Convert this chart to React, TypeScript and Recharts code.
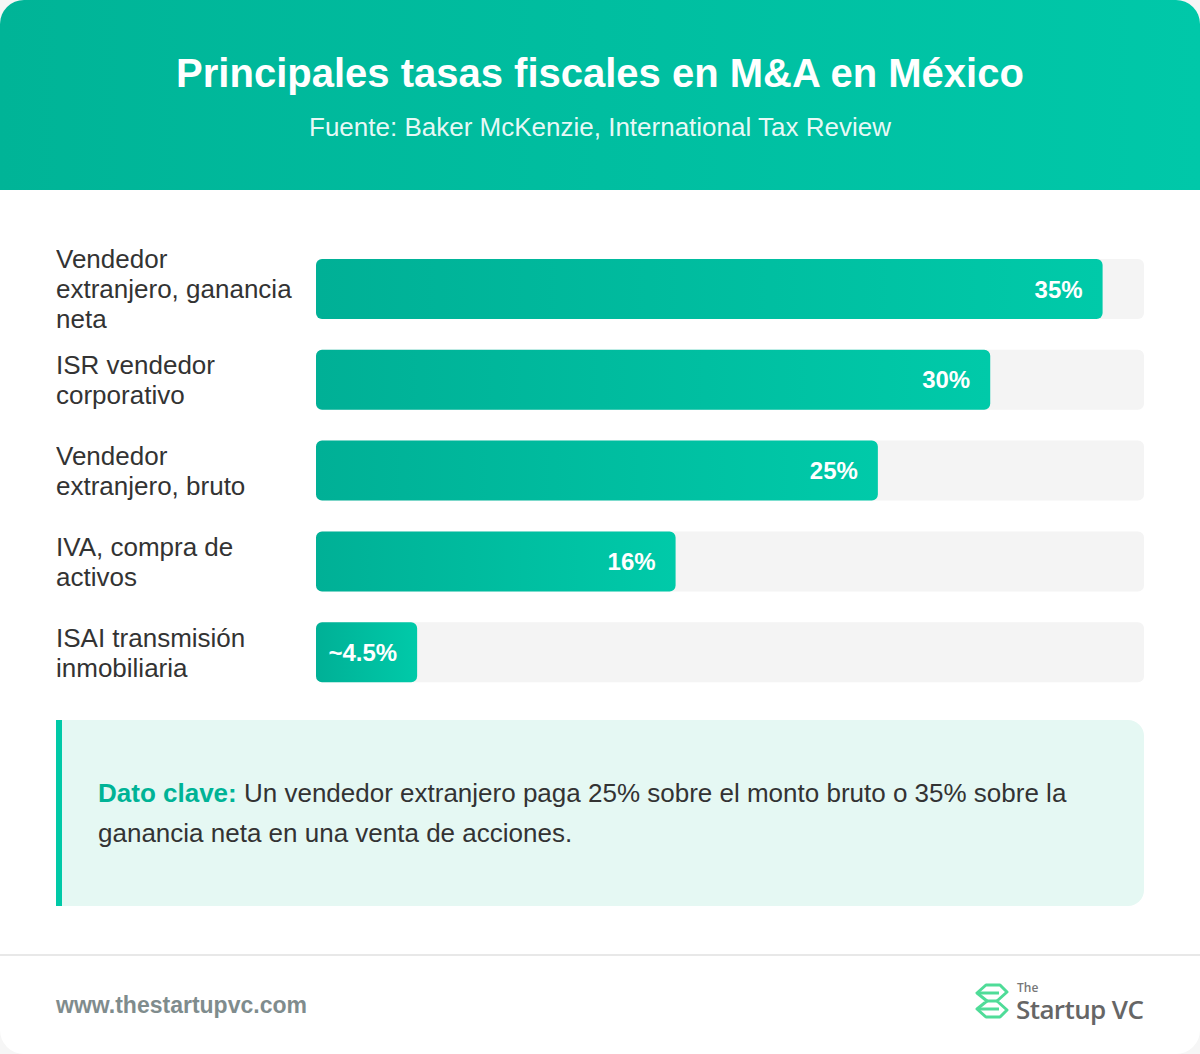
import React from 'react';
import { BarChart, Bar, XAxis, YAxis, LabelList } from 'recharts';

const FONT = '"Liberation Sans", Arial, Helvetica, sans-serif';

// tax items, top to bottom
const categories = [
  'Vendedor extranjero, ganancia neta',
  'ISR vendedor corporativo',
  'Vendedor extranjero, bruto',
  'IVA, compra de activos',
  'ISAI transmisión inmobiliaria',
];
const categoryLines = [
  ['Vendedor', 'extranjero, ganancia', 'neta'],
  ['ISR vendedor', 'corporativo'],
  ['Vendedor', 'extranjero, bruto'],
  ['IVA, compra de', 'activos'],
  ['ISAI transmisión', 'inmobiliaria'],
];
const rates = [35, 30, 25, 16, 4.5];
const rateLabels = ['35%', '30%', '25%', '16%', '~4.5%'];

const data = categories.map((name, i) => ({
  name,
  value: rates[i],
  label: rateLabels[i],
}));

// largest bar fills 95% of the track
const xMax = Math.max(...rates) / 0.95;

const CategoryTick = (props: any) => {
  const { y, index } = props;
  const lines: string[] = categoryLines[index] || [];
  const lh = 30;
  const startY = y - ((lines.length - 1) * lh) / 2;
  return (
    <text x={0} y={startY} fill="#333" fontSize={26} fontFamily={FONT} textAnchor="start">
      {lines.map((l, i) => (
        <tspan key={i} x={0} y={startY + i * lh} dominantBaseline="central">
          {l}
        </tspan>
      ))}
    </text>
  );
};

const Logo = () => (
  <div style={{ position: 'absolute', right: 56, top: 980, display: 'flex', alignItems: 'center' }}>
    <svg width={36} height={38} viewBox="0 0 36 38" style={{ marginRight: 6 }}>
      <g fill="none" stroke="#4fdc98" strokeWidth={3} strokeLinejoin="round">
        <path d="M12 3 H26 L33 10 L23 19 L33 28 L26 35 H12 L3 27 L13 19 L3 11 Z" />
        <path d="M3 11 H25" />
        <path d="M13 19 H23" />
        <path d="M3 27 H25" />
      </g>
    </svg>
    <div style={{ position: 'relative', height: 42, width: 128 }}>
      <div style={{ position: 'absolute', left: 1, top: 1, fontSize: 12, lineHeight: '13px', color: '#777', fontFamily: '"Open Sans", sans-serif', fontWeight: 600 }}>The</div>
      <div style={{ position: 'absolute', left: 0, top: 16, fontSize: 26, lineHeight: '26px', color: '#666', fontFamily: '"Open Sans", sans-serif', fontWeight: 600, letterSpacing: -0.6, whiteSpace: 'nowrap' }}>
        Startup VC
      </div>
    </div>
  </div>
);

export default function App() {
  return (
    <div style={{ position: 'absolute', left: 0, top: 0, width: 1200, height: 1054, background: '#f6f6f6', fontFamily: FONT }}>
      <div style={{ position: 'absolute', left: 0, top: 0, width: 1200, height: 1054, background: '#fff', borderRadius: 24, overflow: 'hidden' }}>
        {/* header */}
        <div style={{ position: 'absolute', left: 0, top: 0, width: 1200, height: 190, background: 'linear-gradient(90deg, #00b497 0%, #00c8a9 100%)' }}>
          <div style={{ position: 'absolute', top: 50, width: '100%', textAlign: 'center', color: '#fff', fontSize: 40, lineHeight: '46px', fontWeight: 700 }}>
            Principales tasas fiscales en M&amp;A en México
          </div>
          <div style={{ position: 'absolute', top: 112, width: '100%', textAlign: 'center', color: 'rgba(255,255,255,0.92)', fontSize: 26, lineHeight: '30px' }}>
            Fuente: Baker McKenzie, International Tax Review
          </div>
        </div>

        {/* chart */}
        <div style={{ position: 'absolute', left: 56, top: 244 }}>
          <BarChart width={1088} height={454} data={data} layout="vertical" margin={{ top: 0, right: 0, bottom: 0, left: 0 }}>
            <defs>
              <linearGradient id="barGrad" x1="0" y1="0" x2="1" y2="0">
                <stop offset="0%" stopColor="#00b096" />
                <stop offset="100%" stopColor="#00caa9" />
              </linearGradient>
            </defs>
            <XAxis type="number" domain={[0, xMax]} hide />
            <YAxis type="category" dataKey="name" width={260} axisLine={false} tickLine={false} tick={<CategoryTick />} interval={0} />
            <Bar dataKey="value" barSize={60} fill="url(#barGrad)" radius={6} background={{ fill: '#f4f4f4', radius: 6 }} isAnimationActive={false}>
              <LabelList dataKey="label" position="insideRight" offset={20} fill="#fff" fontSize={24} fontWeight={700} fontFamily={FONT} />
            </Bar>
          </BarChart>
        </div>

        {/* key fact box */}
        <div
          style={{
            position: 'absolute', left: 56, top: 720, width: 1088, height: 186, boxSizing: 'border-box',
            background: '#e5f8f3', borderLeft: '6px solid #00c9a7', borderRadius: '0 16px 16px 0',
            display: 'flex', alignItems: 'center', padding: '0 50px 0 36px',
          }}
        >
          <div style={{ fontSize: 26, lineHeight: '40px', color: '#333' }}>
            <span style={{ color: '#00b396', fontWeight: 700 }}>Dato clave:</span> Un vendedor extranjero paga 25% sobre el monto bruto o 35% sobre la ganancia neta en una venta de acciones.
          </div>
        </div>

        {/* footer */}
        <div style={{ position: 'absolute', left: 0, top: 954, width: 1200, height: 2, background: '#e8e8e8' }} />
        <div style={{ position: 'absolute', left: 56, top: 992, fontSize: 23, lineHeight: '26px', fontWeight: 700, color: '#7f8c8d' }}>www.thestartupvc.com</div>
        <Logo />
      </div>
    </div>
  );
}
